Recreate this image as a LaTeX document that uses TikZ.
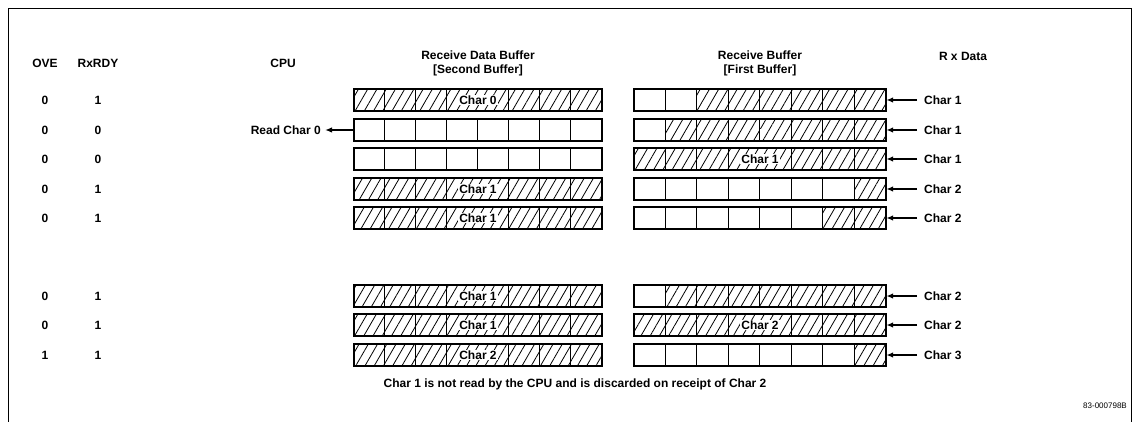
\documentclass[tikz,border=0pt]{standalone}
\usepackage{fontspec}
\setmainfont{Liberation Sans}
\usetikzlibrary{arrows.meta,patterns.meta,calc}

\begin{document}
\begin{tikzpicture}[x=1pt,y=-1pt,
    buf/.style={minimum width=#1,minimum height=21pt,inner sep=0pt},
    border/.style={line width=2pt},
    cell/.style={line width=1.2pt},
    hatch/.style={pattern={Lines[angle=60,distance=8pt,line width=0.8pt]}},
    lbl/.style={font=\bfseries\fontsize{12}{14}\selectfont,inner sep=1pt},
    charlbl/.style={lbl,fill=white},
    arrow/.style={-{Latex[length=7pt,width=5.5pt]},line width=1.4pt}]
  \useasboundingbox (0,0) rectangle (1137,422);
  \draw[line width=0.9pt] (8,422) -- (8,8) -- (1131,8) -- (1131,422);

  % column heads
  \node[lbl] (hove) at (45,63) {OVE};
  \node[lbl] (hrdy) at (98,63) {RxRDY};
  \node[lbl] (hcpu) at (283,63) {CPU};
  \node[lbl,align=center] (hrdb) at (478,63) {Receive Data Buffer\\{[}Second Buffer{]}};
  \node[lbl,align=center] (hrb) at (760,63) {Receive Buffer\\{[}First Buffer{]}};
  \node[lbl] (hrx) at (963,56) {R x Data};

  % row/y/OVE/RxRDY/empty cells left/text left/dividers left/empty cells right/text right/dividers right/RxData
  \foreach \r/\y/\ove/\rdy/\lk/\lt/\ld/\rk/\rt/\rd/\rx in {
      1/100/0/1/0/Char 0/{1,2,3,5,6,7}/2//{1,...,7}/Char 1,
      2/130/0/0/8//{1,...,7}/1//{1,...,7}/Char 1,
      3/159/0/0/8//{1,...,7}/0/Char 1/{1,2,3,5,6,7}/Char 1,
      4/189/0/1/0/Char 1/{1,2,3,5,6,7}/7//{1,...,7}/Char 2,
      5/218/0/1/0/Char 1/{1,2,3,5,6,7}/6//{1,...,7}/Char 2,
      6/296/0/1/0/Char 1/{1,2,3,5,6,7}/1//{1,...,7}/Char 2,
      7/325/0/1/0/Char 1/{1,2,3,5,6,7}/0/Char 2/{1,2,3,5,6,7}/Char 2,
      8/355/1/1/0/Char 2/{1,2,3,5,6,7}/7//{1,...,7}/Char 3} {
    \node[lbl] (ove\r) at (45,\y) {\ove};
    \node[lbl] (rdy\r) at (98,\y) {\rdy};
    \node[buf=248pt] (L\r) at (478,\y) {};
    \node[buf=252pt] (R\r) at (760,\y) {};
    \fill[hatch] ($(L\r.north west)+(\lk*31,0)$) rectangle (L\r.south east);
    \fill[hatch] ($(R\r.north west)+(\rk*31.5,0)$) rectangle (R\r.south east);
    \node[charlbl] (Lt\r) at (L\r) {\lt};
    \node[charlbl] (Rt\r) at (R\r) {\rt};
    \foreach \i in \ld
      \draw[cell] ($(L\r.north west)+(\i*31,0)$) -- ($(L\r.south west)+(\i*31,0)$);
    \foreach \i in \rd
      \draw[cell] ($(R\r.north west)+(\i*31.5,0)$) -- ($(R\r.south west)+(\i*31.5,0)$);
    \draw[border] (L\r.north west) rectangle (L\r.south east);
    \draw[border] (R\r.north west) rectangle (R\r.south east);
    \node[lbl,anchor=west] (rx\r) at (923,\y) {\rx};
    \draw[arrow,shorten <=6pt] (rx\r) -- (R\r);
  }

  \node[lbl,anchor=east] (read) at (322,130) {Read Char 0};
  \draw[arrow,shorten >=3pt] (L2) -- (read);

  \node[lbl] (note) at (575,384) {Char 1 is not read by the CPU and is discarded on receipt of Char 2};
  \node[font=\fontsize{8}{9}\selectfont,anchor=east,inner sep=0pt] (code) at (1127,406) {83-000798B};
\end{tikzpicture}
\end{document}
